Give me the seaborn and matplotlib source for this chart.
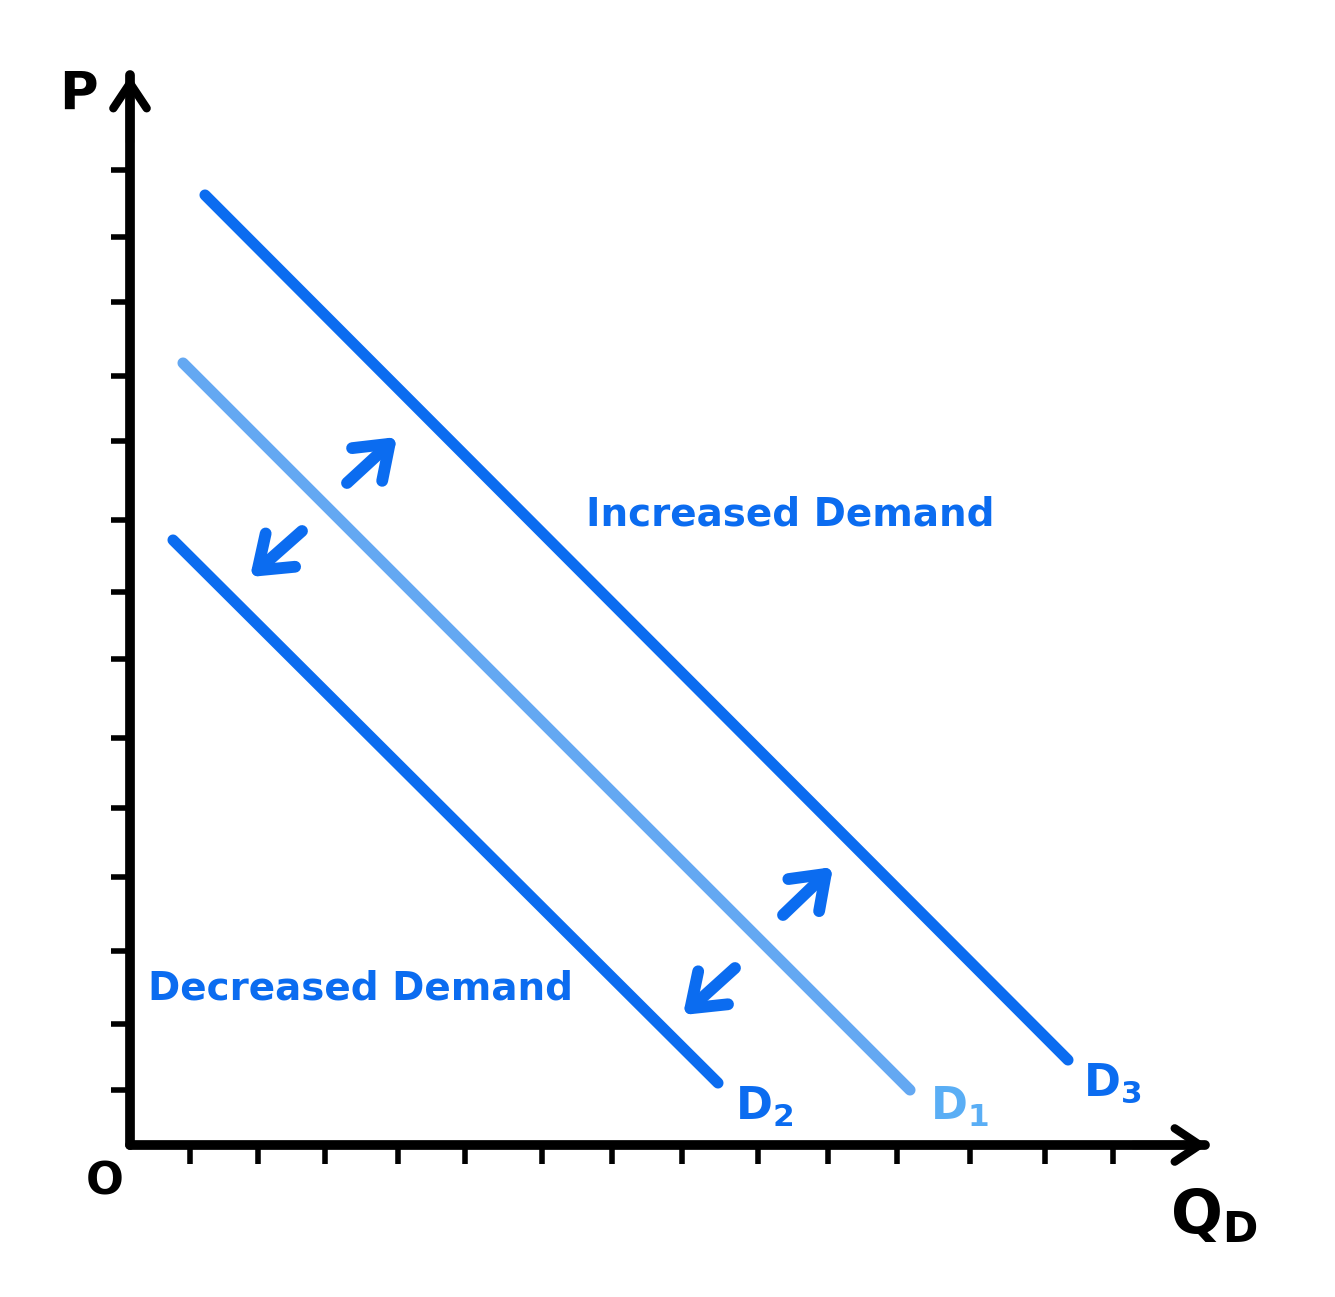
import matplotlib
matplotlib.use("Agg")
import matplotlib.pyplot as plt
import seaborn as sns
import pandas as pd

# ---- data (quantity / price units) ----
d3_q = [75, 938]
d3_p = [950, 85]
d1_q = [53, 780]
d1_p = [782, 55]
d2_q = [43, 588]
d2_p = [605, 62]

x_ticks = [60, 128, 195, 268, 335, 412, 482, 552, 628, 698, 767, 840, 915, 983]
y_ticks = [975, 908, 843, 769, 704, 625, 553, 486, 407, 337, 268, 194, 121, 55]

# shift arrows: (tail_q, tail_p, head_q, head_p)
up_arrows = [(217, 662, 267, 708), (653, 230, 703, 278)]
down_arrows = [(172, 614, 120, 568), (605, 177, 553, 130)]

DARK = "#0b6cf0"
LIGHT = "#64a8f2"
LIGHT_LABEL = "#5aaef5"

sns.set_theme(style="white")
plt.rcParams["font.family"] = ["DejaVu Sans"]

W, H = 1335, 1297
fig = plt.figure(figsize=(W / 100, H / 100), dpi=100)
left_px, right_px, bottom_px, top_px = 130, 1205, 1145, 75
ax = fig.add_axes([left_px / W, (H - bottom_px) / H,
                   (right_px - left_px) / W, (bottom_px - top_px) / H])
ax.set_xlim(0, right_px - left_px)
ax.set_ylim(0, bottom_px - top_px)

df = pd.concat([
    pd.DataFrame({"Q": d3_q, "P": d3_p, "curve": "D3"}),
    pd.DataFrame({"Q": d1_q, "P": d1_p, "curve": "D1"}),
    pd.DataFrame({"Q": d2_q, "P": d2_p, "curve": "D2"}),
])
sns.lineplot(data=df, x="Q", y="P", hue="curve",
             palette={"D3": DARK, "D1": LIGHT, "D2": DARK},
             linewidth=8, legend=False, ax=ax, estimator=None, sort=False)
for ln in ax.get_lines():
    ln.set_solid_capstyle("round")

# axes look
for s in ["top", "right"]:
    ax.spines[s].set_visible(False)
for s in ["left", "bottom"]:
    ax.spines[s].set_color("black")
    ax.spines[s].set_linewidth(7)
    ax.spines[s].set_capstyle("round")
ax.set_xticks(x_ticks)
ax.set_yticks(y_ticks)
ax.set_xticklabels([])
ax.set_yticklabels([])
ax.tick_params(axis="both", direction="out", length=14, width=4,
               color="black", bottom=True, left=True)
ax.set_xlabel("")
ax.set_ylabel("")
ax.grid(False)

# axis arrow heads
ax.annotate("", xy=(0, 1072), xytext=(0, 1000),
            arrowprops=dict(arrowstyle="->,head_length=0.45,head_width=0.3",
                            lw=6, color="black", mutation_scale=40,
                            capstyle="round", joinstyle="round"),
            annotation_clip=False)
ax.annotate("", xy=(1080, 0), xytext=(1000, 0),
            arrowprops=dict(arrowstyle="->,head_length=0.45,head_width=0.3",
                            lw=6, color="black", mutation_scale=40,
                            capstyle="round", joinstyle="round"),
            annotation_clip=False)

# shift arrows
for tq, tp, hq, hp in up_arrows + down_arrows:
    ax.annotate("", xy=(hq, hp), xytext=(tq, tp),
                arrowprops=dict(arrowstyle="->,head_length=0.55,head_width=0.4",
                                lw=8.5, color=DARK, mutation_scale=40,
                                capstyle="round", joinstyle="round",
                                shrinkA=0, shrinkB=0))

# text labels
ax.text(660, 630, "Increased Demand", color=DARK, fontsize=28,
        fontweight="bold", ha="center", va="center")
ax.text(230, 157, "Decreased Demand", color=DARK, fontsize=28,
        fontweight="bold", ha="center", va="center")
ax.text(605, 38, r"$\mathbf{D_2}$", color=DARK, fontsize=32, ha="left", va="center")
ax.text(800, 38, r"$\mathbf{D_1}$", color=LIGHT_LABEL, fontsize=32, ha="left", va="center")
ax.text(953, 62, r"$\mathbf{D_3}$", color=DARK, fontsize=32, ha="left", va="center")

ax.text(-52, 1050, "P", color="black", fontsize=38, fontweight="bold",
        ha="center", va="center", clip_on=False)
ax.text(-25, -37, "O", color="black", fontsize=32, fontweight="bold",
        ha="center", va="center", clip_on=False)
ax.text(1040, -72, r"$\mathbf{Q_D}$", color="black", fontsize=44,
        ha="left", va="center", clip_on=False)

fig.savefig("out.png", dpi=100, facecolor="white")
